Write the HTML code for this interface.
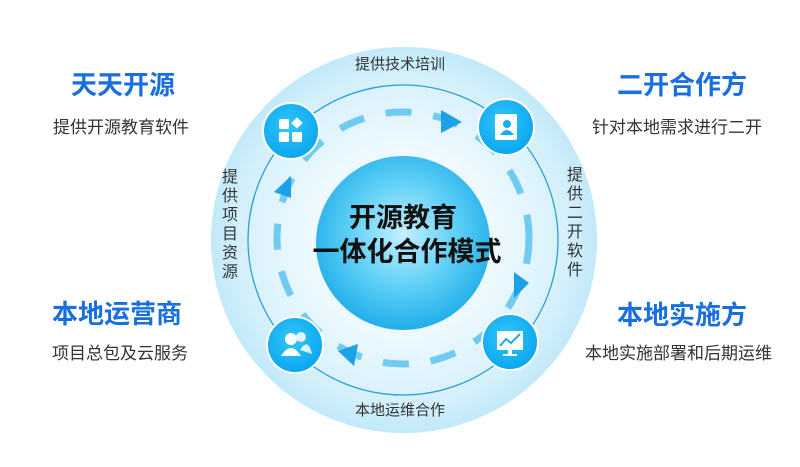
<!DOCTYPE html>
<html><head><meta charset="utf-8"><style>
html,body{margin:0;padding:0;background:#fff;}
svg{display:block;font-family:"Liberation Sans","Noto Sans CJK SC",sans-serif;}
</style></head><body>
<svg width="800" height="467" viewBox="0 0 800 467" xmlns="http://www.w3.org/2000/svg">
<defs>
<radialGradient id="outer" cx="0.5" cy="0.5" r="0.5">
<stop offset="0.6" stop-color="#eaf7fd"/><stop offset="0.85" stop-color="#d4f0fb"/><stop offset="1" stop-color="#c2e9fa"/>
</radialGradient>
<radialGradient id="inner" cx="0.5" cy="0.5" r="0.5">
<stop offset="0.5" stop-color="#f2fbff"/><stop offset="1" stop-color="#daf2fc"/>
</radialGradient>
<radialGradient id="core" cx="0.5" cy="0.45" r="0.55">
<stop offset="0" stop-color="#c4f0ff"/><stop offset="0.55" stop-color="#5fd0f6"/><stop offset="1" stop-color="#22aee9"/>
</radialGradient>
<radialGradient id="ic" cx="0.45" cy="0.4" r="0.6">
<stop offset="0" stop-color="#33c6fb"/><stop offset="1" stop-color="#0aa6ee"/>
</radialGradient>
</defs>
<circle cx="404" cy="240" r="193" fill="url(#outer)"/>
<circle cx="403" cy="240" r="155" fill="url(#inner)" stroke="#2a9fd4" stroke-width="1.3"/>
<circle cx="403" cy="243" r="87" fill="url(#core)"/>
<circle cx="403" cy="238" r="126" fill="none" stroke="#5cc3ee" stroke-width="7" stroke-dasharray="26 22" stroke-linecap="butt" opacity="0.85"/>
<polygon points="441,110 462,122 441,133" fill="#1da1e6"/>
<polygon points="514,272 529,283 514,298" fill="#1da1e6"/>
<polygon points="358,344 338,351 354,366" fill="#1da1e6"/>
<polygon points="274,192 291,176 291,198" fill="#1da1e6"/>
<circle cx="291" cy="131" r="28" fill="url(#ic)" stroke="#fff" stroke-width="2"/>
<rect x="279" y="119" width="10" height="10" rx="1.5" fill="#fff"/>
<rect x="279" y="132" width="10" height="10" rx="1.5" fill="#fff"/>
<rect x="292" y="132" width="10" height="10" rx="1.5" fill="#fff"/>
<rect x="293" y="119" width="8" height="8" fill="#fff" transform="rotate(45 297 123)"/>
<circle cx="506" cy="127" r="28" fill="url(#ic)" stroke="#fff" stroke-width="2"/>
<rect x="495" y="114" width="22" height="26" rx="2" fill="#fff"/>
<circle cx="507" cy="124" r="4" fill="#16aef0"/>
<path d="M500 135 q7 -10 14 0z" fill="#16aef0"/>
<circle cx="295" cy="345" r="28" fill="url(#ic)" stroke="#fff" stroke-width="2"/>
<circle cx="291" cy="339" r="6" fill="#fff"/><path d="M281 356 q10 -16 20 0z" fill="#fff"/>
<circle cx="301" cy="337" r="5" fill="#fff" opacity="0.85"/><path d="M300 350 q8 -13 12 4z" fill="#fff" opacity="0.85"/>
<circle cx="510" cy="342" r="28" fill="url(#ic)" stroke="#fff" stroke-width="2"/>
<rect x="497" y="331" width="26" height="19" fill="#fff"/>
<polyline points="500,346 506,339 511,343 520,334" fill="none" stroke="#16aef0" stroke-width="2"/>
<rect x="508" y="350" width="4" height="4" fill="#fff"/><rect x="503" y="354" width="14" height="2" fill="#fff"/>
<text x="400" y="69" font-size="15" fill="#333" text-anchor="middle">提供技术培训</text>
<text x="400" y="415" font-size="15" fill="#333" text-anchor="middle">本地运维合作</text>
<g font-size="16" fill="#333" text-anchor="middle">
<text x="230" y="182">提</text><text x="230" y="201">供</text><text x="230" y="220">项</text><text x="230" y="239">目</text><text x="230" y="258">资</text><text x="230" y="277">源</text>
<text x="575" y="180">提</text><text x="575" y="199">供</text><text x="575" y="218">二</text><text x="575" y="237">开</text><text x="575" y="256">软</text><text x="575" y="275">件</text>
</g>
<text x="403" y="227" font-size="27" font-weight="bold" fill="#111" text-anchor="middle">开源教育</text>
<text x="407" y="261" font-size="27" font-weight="bold" fill="#111" text-anchor="middle">一体化合作模式</text>
<g font-size="26" font-weight="bold" fill="#1a6fe0">
<text x="71" y="94">天天开源</text>
<text x="52" y="323">本地运营商</text>
<text x="617" y="94">二开合作方</text>
<text x="617" y="324">本地实施方</text>
</g>
<g font-size="17" fill="#333">
<text x="53" y="133">提供开源教育软件</text>
<text x="52" y="359">项目总包及云服务</text>
<text x="592" y="133">针对本地需求进行二开</text>
<text x="585" y="359">本地实施部署和后期运维</text>
</g>
</svg>
</body></html>
